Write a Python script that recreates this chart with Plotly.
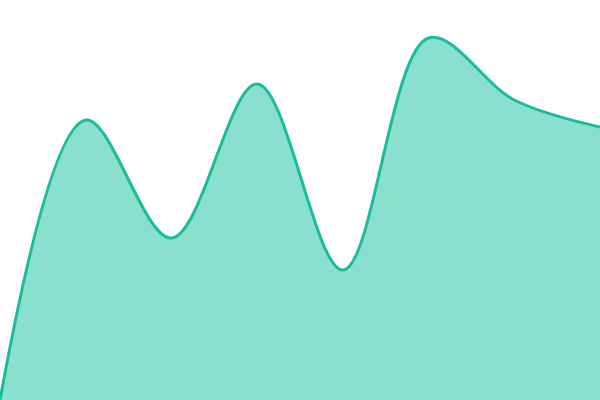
import plotly.graph_objects as go

x_values = [0, 1, 2, 3, 4, 5, 6, 7]
y_values = [0, 280, 162, 316, 130, 362, 300, 273]

fig = go.Figure()
fig.add_trace(go.Scatter(
    x=x_values, y=y_values, mode="lines",
    line=dict(color="#1abc9c", width=3, shape="spline", smoothing=1),
    fill="tozeroy", fillcolor="#8ae0cf",
    hoverinfo="skip",
))
fig.update_layout(
    width=600, height=400,
    margin=dict(l=0, r=0, t=0, b=0),
    paper_bgcolor="white", plot_bgcolor="white",
    showlegend=False,
    xaxis=dict(visible=False, range=[0, 7], fixedrange=True),
    yaxis=dict(visible=False, range=[0, 400], fixedrange=True),
)
fig.write_html(
    "out.html",
    config={"displayModeBar": False},
    post_script="document.body.style.margin='0';document.body.style.overflow='hidden';",
)
